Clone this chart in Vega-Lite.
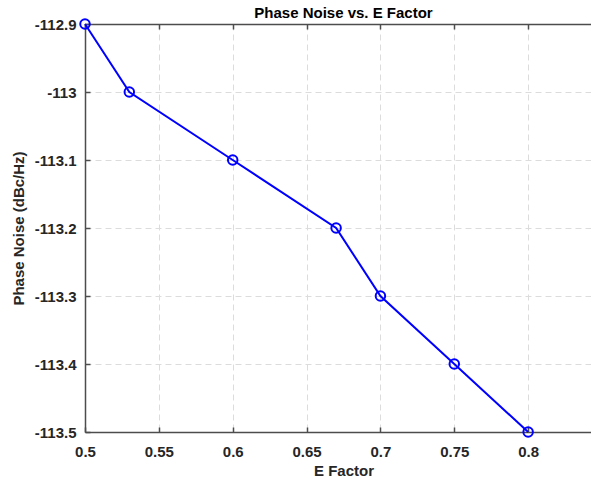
{
  "$schema": "https://vega.github.io/schema/vega-lite/v6.json",
  "autosize": "none",
  "padding": {"left": 85, "top": 24, "right": 10, "bottom": 52},
  "width": 517,
  "height": 408,
  "background": "white",
  "title": {"text": "Phase Noise vs. E Factor", "font": "Liberation Sans", "fontSize": 15, "fontWeight": "bold", "color": "#000000", "offset": -6, "anchor": "middle"},
  "config": {
    "view": {"stroke": null},
    "axis": {
      "labelFont": "Liberation Sans", "labelFontSize": 15, "labelFontWeight": "bold", "labelColor": "#262626", "labelFlush": false,
      "titleFont": "Liberation Sans", "titleFontSize": 15, "titleFontWeight": "bold", "titleColor": "#262626",
      "domainColor": "#4d4d4d", "domainWidth": 1.5, "tickColor": "#4d4d4d", "tickWidth": 1.5,
      "gridColor": "#dcdcdc", "gridDash": [6, 4], "gridWidth": 1
    }
  },
  "data": {"values": [
    {"e": 0.5, "pn": -112.9},
    {"e": 0.53, "pn": -113.0},
    {"e": 0.6, "pn": -113.1},
    {"e": 0.67, "pn": -113.2},
    {"e": 0.7, "pn": -113.3},
    {"e": 0.75, "pn": -113.4},
    {"e": 0.8, "pn": -113.5}
  ]},
  "resolve": {"axis": {"x": "independent"}},
  "layer": [
    {
      "mark": {"type": "line", "color": "#0000ff", "strokeWidth": 2, "clip": false},
      "encoding": {
        "x": {"field": "e", "type": "quantitative", "scale": {"domain": [0.5, 0.85], "nice": false, "zero": false},
          "axis": {"title": "E Factor", "values": [0.5, 0.55, 0.6, 0.65, 0.7, 0.75, 0.8], "tickSize": -5, "labelPadding": 17, "titlePadding": 4, "format": "~g", "labelExpr": "replace(datum.label, '−', '-')"}},
        "y": {"field": "pn", "type": "quantitative", "scale": {"domain": [-113.5, -112.9], "nice": false, "zero": false},
          "axis": {"title": "Phase Noise (dBc/Hz)", "values": [-113.5, -113.4, -113.3, -113.2, -113.1, -113.0, -112.9], "tickSize": -5, "labelPadding": 14, "titlePadding": 8, "format": "~g", "labelExpr": "replace(datum.label, '−', '-')"}}
      }
    },
    {
      "mark": {"type": "point", "shape": "circle", "filled": false, "color": "#0000ff", "strokeWidth": 2, "size": 90, "opacity": 1, "clip": false},
      "encoding": {
        "x": {"field": "e", "type": "quantitative",
          "axis": {"orient": "top", "title": null, "labels": false, "grid": false, "values": [0.5, 0.55, 0.6, 0.65, 0.7, 0.75, 0.8], "tickSize": -5}},
        "y": {"field": "pn", "type": "quantitative"}
      }
    }
  ]
}
